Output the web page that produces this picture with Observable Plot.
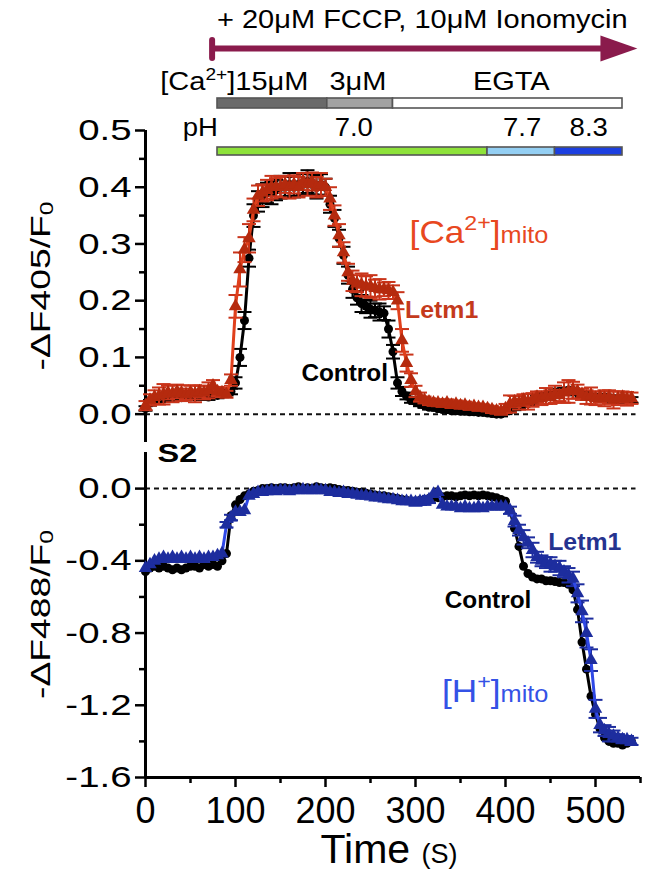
<!DOCTYPE html>
<html>
<head>
<meta charset="utf-8">
<script src="https://cdn.jsdelivr.net/npm/d3@7"></script>
<script src="https://cdn.jsdelivr.net/npm/@observablehq/plot@0.6"></script>
<style>
html,body{margin:0;padding:0;background:#fff;}
#wrap{position:relative;width:645px;height:873px;overflow:hidden;font-family:"Liberation Sans",Arial,sans-serif;}
#wrap svg{position:absolute;left:0;top:0;overflow:visible;}
</style>
</head>
<body>
<div id="wrap"></div>
<script>
// ---------- data ----------
const time = [
  0,5,10,15,20,25,30,35,40,45,
  50,55,60,65,70,75,80,85,90,95,
  100,105,110,115,120,125,130,135,140,145,
  150,155,160,165,170,175,180,185,190,195,
  200,205,210,215,220,225,230,235,240,245,
  250,255,260,265,270,275,280,285,290,295,
  300,305,310,315,320,325,330,335,340,345,
  350,355,360,365,370,375,380,385,390,395,
  400,405,410,415,420,425,430,435,440,445,
  450,455,460,465,470,475,480,485,490,495,
  500,505,510,515,520,525,530,535,540];

// -ΔF405/F0, [Ca2+]mito
const caControl = [
  0.010,0.020,0.025,0.028,0.027,0.030,0.028,0.030,0.029,0.031,
  0.030,0.030,0.033,0.032,0.030,0.035,0.033,0.035,0.038,0.040,
  0.055,0.100,0.165,0.275,0.350,0.375,0.385,0.390,0.390,0.395,
  0.400,0.400,0.405,0.400,0.405,0.405,0.410,0.405,0.400,0.405,
  0.400,0.370,0.345,0.310,0.280,0.245,0.220,0.205,0.195,0.190,
  0.185,0.183,0.180,0.178,0.150,0.110,0.055,0.040,0.032,0.025,
  0.022,0.018,0.015,0.012,0.012,0.010,0.008,0.008,0.006,0.006,
  0.005,0.005,0.004,0.004,0.003,0.003,0.002,0.001,0.000,0.000,
  0.005,0.008,0.012,0.015,0.018,0.020,0.022,0.028,0.030,0.033,
  0.035,0.037,0.040,0.040,0.042,0.040,0.038,0.035,0.032,0.030,
  0.030,0.028,0.030,0.028,0.027,0.025,0.026,0.025,0.025];
const caControlSem = [
  0.004,0.005,0.005,0.005,0.005,0.005,0.005,0.005,0.005,0.005,
  0.005,0.005,0.005,0.005,0.005,0.005,0.005,0.005,0.005,0.005,
  0.010,0.015,0.015,0.015,0.020,0.018,0.020,0.018,0.020,0.018,
  0.020,0.018,0.020,0.018,0.020,0.018,0.020,0.018,0.020,0.018,
  0.015,0.015,0.015,0.015,0.015,0.015,0.015,0.012,0.015,0.012,
  0.015,0.012,0.015,0.012,0.015,0.012,0.010,0.008,0.006,0.005,
  0.004,0.004,0.004,0.004,0.004,0.004,0.004,0.004,0.004,0.004,
  0.004,0.004,0.004,0.004,0.004,0.004,0.004,0.004,0.004,0.004,
  0.005,0.005,0.005,0.005,0.005,0.005,0.005,0.005,0.005,0.005,
  0.005,0.005,0.005,0.005,0.005,0.005,0.005,0.005,0.005,0.005,
  0.005,0.005,0.005,0.005,0.005,0.005,0.005,0.005,0.005];
const caLetm1 = [
  0.015,0.025,0.030,0.032,0.035,0.038,0.036,0.040,0.037,0.035,
  0.038,0.036,0.040,0.038,0.042,0.050,0.040,0.038,0.035,0.060,
  0.190,0.255,0.290,0.310,0.360,0.385,0.390,0.395,0.400,0.400,
  0.400,0.405,0.400,0.405,0.400,0.410,0.405,0.410,0.400,0.405,
  0.400,0.380,0.350,0.315,0.285,0.250,0.235,0.230,0.228,0.225,
  0.225,0.222,0.220,0.220,0.218,0.215,0.200,0.130,0.090,0.060,
  0.040,0.030,0.025,0.022,0.020,0.020,0.018,0.020,0.016,0.018,
  0.015,0.016,0.013,0.014,0.012,0.012,0.010,0.008,0.006,0.005,
  0.010,0.018,0.022,0.020,0.025,0.022,0.025,0.030,0.028,0.032,
  0.030,0.035,0.033,0.038,0.040,0.042,0.040,0.035,0.030,0.032,
  0.028,0.030,0.028,0.030,0.025,0.028,0.030,0.027,0.028];
const caLetm1Sem = [
  0.008,0.010,0.012,0.015,0.018,0.012,0.015,0.012,0.014,0.010,
  0.012,0.015,0.010,0.012,0.014,0.010,0.008,0.008,0.006,0.010,
  0.020,0.030,0.022,0.025,0.020,0.018,0.015,0.018,0.020,0.016,
  0.018,0.015,0.020,0.016,0.018,0.015,0.020,0.016,0.018,0.020,
  0.015,0.020,0.018,0.020,0.018,0.015,0.018,0.015,0.020,0.018,
  0.020,0.015,0.018,0.012,0.015,0.012,0.015,0.020,0.015,0.012,
  0.010,0.008,0.006,0.006,0.005,0.006,0.005,0.006,0.005,0.006,
  0.005,0.006,0.005,0.005,0.006,0.005,0.005,0.006,0.005,0.006,
  0.008,0.015,0.010,0.012,0.010,0.014,0.012,0.010,0.012,0.014,
  0.012,0.015,0.010,0.018,0.020,0.015,0.012,0.010,0.012,0.015,
  0.012,0.010,0.014,0.012,0.015,0.012,0.010,0.012,0.010];

// -ΔF488/F0, [H+]mito
const phControl = [
  -0.46,-0.44,-0.43,-0.44,-0.43,-0.44,-0.45,-0.44,-0.45,-0.44,
  -0.43,-0.43,-0.44,-0.42,-0.43,-0.42,-0.43,-0.40,-0.36,-0.15,
  -0.09,-0.06,-0.04,-0.03,-0.015,-0.01,0.00,0.00,0.005,0.00,
  0.005,0.005,0.00,0.005,0.01,0.00,0.005,0.00,0.01,0.005,
  0.00,0.005,0.00,-0.005,-0.01,-0.01,-0.015,-0.02,-0.02,-0.025,
  -0.03,-0.035,-0.04,-0.04,-0.045,-0.05,-0.055,-0.06,-0.065,-0.07,
  -0.07,-0.065,-0.06,-0.055,-0.05,-0.05,-0.045,-0.04,-0.04,-0.045,
  -0.04,-0.035,-0.04,-0.035,-0.04,-0.035,-0.04,-0.045,-0.05,-0.06,
  -0.07,-0.12,-0.22,-0.32,-0.43,-0.47,-0.49,-0.50,-0.50,-0.51,
  -0.51,-0.515,-0.52,-0.52,-0.53,-0.56,-0.67,-0.85,-1.00,-1.15,
  -1.25,-1.33,-1.38,-1.40,-1.41,-1.41,-1.42,-1.41,-1.40];
const phLetm1 = [
  -0.44,-0.42,-0.40,-0.39,-0.38,-0.39,-0.38,-0.39,-0.38,-0.39,
  -0.38,-0.39,-0.38,-0.39,-0.38,-0.38,-0.37,-0.36,-0.20,-0.16,
  -0.13,-0.13,-0.12,-0.04,-0.03,-0.02,-0.02,-0.015,-0.01,-0.015,
  -0.01,-0.01,-0.015,-0.01,-0.01,-0.005,-0.01,-0.01,-0.005,-0.01,
  -0.01,-0.02,-0.02,-0.025,-0.02,-0.03,-0.03,-0.035,-0.04,-0.04,
  -0.045,-0.05,-0.05,-0.055,-0.06,-0.06,-0.065,-0.07,-0.07,-0.07,
  -0.075,-0.07,-0.07,-0.06,-0.03,-0.02,-0.09,-0.10,-0.10,-0.10,
  -0.11,-0.10,-0.11,-0.11,-0.10,-0.11,-0.10,-0.10,-0.10,-0.10,
  -0.10,-0.12,-0.18,-0.23,-0.27,-0.30,-0.34,-0.38,-0.40,-0.41,
  -0.42,-0.43,-0.44,-0.46,-0.48,-0.50,-0.58,-0.68,-0.80,-0.95,
  -1.22,-1.31,-1.34,-1.36,-1.37,-1.38,-1.39,-1.39,-1.40];
const phLetm1Sem = [
  0.010,0.010,0.012,0.010,0.010,0.012,0.010,0.010,0.012,0.010,
  0.010,0.012,0.010,0.010,0.012,0.010,0.010,0.012,0.015,0.015,
  0.012,0.010,0.010,0.012,0.010,0.010,0.012,0.010,0.010,0.012,
  0.010,0.010,0.012,0.010,0.010,0.012,0.010,0.010,0.012,0.010,
  0.010,0.012,0.010,0.010,0.012,0.010,0.010,0.012,0.010,0.010,
  0.012,0.010,0.010,0.012,0.010,0.010,0.012,0.010,0.010,0.012,
  0.020,0.020,0.020,0.020,0.010,0.012,0.010,0.010,0.012,0.010,
  0.010,0.012,0.010,0.010,0.012,0.010,0.010,0.012,0.010,0.010,
  0.010,0.020,0.030,0.030,0.040,0.030,0.040,0.030,0.030,0.030,
  0.040,0.030,0.040,0.030,0.040,0.040,0.050,0.060,0.080,0.060,
  0.050,0.040,0.030,0.040,0.030,0.020,0.020,0.020,0.020];

// experimental conditions (s)
const caSegments = [
  {row: "ca", label: "15μM", start: 80, end: 202},
  {row: "ca", label: "3μM", start: 202, end: 275},
  {row: "ca", label: "EGTA", start: 275, end: 530}];
const phSegments = [
  {row: "ph", label: "7.0", start: 80, end: 380},
  {row: "ph", label: "7.7", start: 380, end: 455},
  {row: "ph", label: "8.3", start: 455, end: 530}];
const drugSpan = [{row: "arrow", start: 74, end: 515, head: 526}];

const xMajor = [0,100,200,300,400,500];
const xMinor = [50,150,250,350,450,550];
const yUpperMajor = [0,0.1,0.2,0.3,0.4,0.5];
const yUpperMinor = [0.05,0.15,0.25,0.35,0.45];
const yLowerMajor = [0,-0.4,-0.8,-1.2,-1.6];
const yLowerMinor = [-0.2,-0.6,-1.0,-1.4];

// ---------- styling / layout ----------
const W = 645, H = 873, ML = 145, MR = 5;
const FONT = '"Liberation Sans", Arial, sans-serif';
const segColors = {
  domain: ["15μM","3μM","EGTA","7.0","7.7","8.3"],
  range: ["#6a6a6a","#a2a2a2","#ffffff","#8ee23a","#94cff3","#1c3fe0"]
};
const C = {
  red: "#e0401c", redMark: "#b52a0e", redErr: "#c9341a",
  blue: "#2f48e6", blueMark: "#1d2d9e", blueErr: "#1d2d9e",
  arrow: "#8a1b4c"
};

const rows = (vals, sem) => time.map((t, i) => ({t, v: vals[i], s: sem ? sem[i] : 0}));
const caC = rows(caControl, caControlSem), caL = rows(caLetm1, caLetm1Sem);
const phC = rows(phControl), phL = rows(phLetm1, phLetm1Sem);

const capSymbol = {draw(ctx, size) { const r = Math.sqrt(size / Math.PI); ctx.moveTo(-r, 0); ctx.lineTo(r, 0); }};
const headSymbol = {draw(ctx, size) { const r = Math.sqrt(size / Math.PI); ctx.moveTo(-1.42*r, -r); ctx.lineTo(1.42*r, 0); ctx.lineTo(-1.42*r, r); ctx.closePath(); }};

function errorMarks(data, color) {
  return [
    Plot.ruleX(data, {x: "t", y1: d => d.v - d.s, y2: d => d.v + d.s, stroke: color, strokeWidth: 2}),
    Plot.dot(data, {x: "t", y: d => d.v + d.s, symbol: capSymbol, r: 7, stroke: color, strokeWidth: 2, fill: "none"}),
    Plot.dot(data, {x: "t", y: d => d.v - d.s, symbol: capSymbol, r: 7, stroke: color, strokeWidth: 2, fill: "none"})
  ];
}
// widen the y tick labels about their anchor (right end)
function stretchYTicks(svgNode, sx) {
  d3.select(svgNode).selectAll('g[aria-label="y-axis tick label"] text').each(function() {
    const el = d3.select(this);
    const x = +el.attr("x") || 0, y = +el.attr("y") || 0;
    const tr = el.attr("transform") || "";
    el.attr("transform", `${tr} translate(${x},${y}) scale(${sx},1) translate(${-x},${-y})`);
  });
}

const wrap = document.getElementById("wrap");

// ---------- top annotation (conditions) ----------
const condPlot = Plot.plot({
  width: W, height: 180, marginLeft: ML, marginRight: MR,
  x: {domain: [0, 550], axis: null},
  y: {type: "band", domain: ["arrow","ca","ph"], range: [22, 178], padding: 0, axis: null},
  color: segColors,
  style: {background: "none", fontFamily: FONT},
  marks: [
    Plot.ruleY(drugSpan, {y: "row", x1: "start", x2: "end", stroke: C.arrow, strokeWidth: 6}),
    Plot.tickX(drugSpan, {x: "start", y: "row", stroke: C.arrow, strokeWidth: 6, strokeLinecap: "round", insetTop: 18, insetBottom: 16}),
    Plot.dot(drugSpan, {x: "head", y: "row", symbol: headSymbol, r: 13, fill: C.arrow, stroke: "none"}),
    Plot.barX(caSegments, {y: "row", x1: "start", x2: "end", fill: "label", stroke: "#555", strokeWidth: 1.6, insetTop: 24, insetBottom: 18}),
    Plot.barX(phSegments, {y: "row", x1: "start", x2: "end", fill: "label", stroke: "#555", strokeWidth: 1.6, insetTop: 21, insetBottom: 23})
  ]
});
wrap.appendChild(condPlot);

// ---------- upper panel ----------
const upper = Plot.plot({
  width: W, height: H, marginLeft: ML, marginRight: MR, marginTop: 130, marginBottom: H - 442,
  x: {domain: [0, 550], axis: null},
  y: {domain: [-0.05, 0.5]},
  style: {background: "none", fontFamily: FONT, color: "#000"},
  marks: [
    Plot.ruleY([0], {x1: 0, x2: 545, stroke: "#111", strokeWidth: 2, strokeDasharray: "5,4"}),
    Plot.ruleX([0], {stroke: "#000", strokeWidth: 3}),
    Plot.axisY(yUpperMajor, {label: null, tickSize: 10, tickPadding: 4, strokeWidth: 2.5, fontSize: 30, tickFormat: d => d.toFixed(1)}),
    Plot.axisY(yUpperMinor, {label: null, tickSize: 6, strokeWidth: 2.5, tickFormat: () => ""}),
    ...errorMarks(caC, "#000"),
    Plot.line(caC, {x: "t", y: "v", stroke: "#000", strokeWidth: 3}),
    Plot.dot(caC, {x: "t", y: "v", r: 4.5, fill: "#000", stroke: "none"}),
    ...errorMarks(caL, C.redErr),
    Plot.line(caL, {x: "t", y: "v", stroke: C.red, strokeWidth: 3}),
    Plot.dot(caL, {x: "t", y: "v", symbol: "triangle", r: 5, fill: C.redMark, stroke: "none"})
  ]
});
stretchYTicks(upper, 1.28);
wrap.appendChild(upper);

// ---------- lower panel ----------
const phLerr = phL.filter(d => d.s >= 0.015);
const lower = Plot.plot({
  width: W, height: H, marginLeft: ML, marginRight: MR, marginTop: 452, marginBottom: H - 777,
  x: {domain: [0, 550]},
  y: {domain: [-1.6, 0.2]},
  style: {background: "none", fontFamily: FONT, color: "#000"},
  marks: [
    Plot.ruleY([0], {x1: 0, x2: 545, stroke: "#111", strokeWidth: 2, strokeDasharray: "5,4"}),
    Plot.ruleX([0], {stroke: "#000", strokeWidth: 3}),
    Plot.ruleY([-1.6], {stroke: "#000", strokeWidth: 3}),
    Plot.axisY(yLowerMajor, {label: null, tickSize: 10, tickPadding: 4, strokeWidth: 2.5, fontSize: 30, tickFormat: d => d.toFixed(1)}),
    Plot.axisY(yLowerMinor, {label: null, tickSize: 6, strokeWidth: 2.5, tickFormat: () => ""}),
    Plot.axisX(xMajor, {label: null, tickSize: 10, tickPadding: 10, strokeWidth: 2.5, fontSize: 36, tickFormat: d => String(d)}),
    Plot.axisX(xMinor, {label: null, tickSize: 6, strokeWidth: 2.5, tickFormat: () => ""}),
    Plot.line(phC, {x: "t", y: "v", stroke: "#000", strokeWidth: 3}),
    Plot.dot(phC, {x: "t", y: "v", r: 4.5, fill: "#000", stroke: "none"}),
    ...errorMarks(phLerr, C.blueErr),
    Plot.line(phL, {x: "t", y: "v", stroke: C.blue, strokeWidth: 3}),
    Plot.dot(phL, {x: "t", y: "v", symbol: "triangle", r: 5, fill: C.blueMark, stroke: "none"})
  ]
});
stretchYTicks(lower, 1.28);
wrap.appendChild(lower);

// ---------- text annotations (positioned through the plots' scales) ----------
const xs = v => upper.scale("x").apply(v);
const yU = v => upper.scale("y").apply(v);
const yL = v => lower.scale("y").apply(v);
const yBand = r => condPlot.scale("y").apply(r) + condPlot.scale("y").bandwidth / 2;

const ov = d3.create("svg").attr("width", W).attr("height", H).attr("font-family", FONT);
function addText({x, y, parts, size, weight = "normal", fill = "#000", anchor = "start", sx = 1, rotate = 0}) {
  const g = ov.append("g").attr("transform", `translate(${x},${y}) rotate(${rotate}) scale(${sx},1)`);
  const t = g.append("text").attr("font-size", size).attr("font-weight", weight).attr("fill", fill).attr("text-anchor", anchor);
  let cur = 0;
  for (const p of parts) {
    const [str, kind] = typeof p === "string" ? [p, null] : p;
    const fs = kind === "mito" ? size * 0.72 : kind ? size * 0.66 : size;
    const target = kind === "sup" ? -0.42 * size : kind === "sub" ? 0.12 * size : 0;
    t.append("tspan").attr("font-size", fs).attr("dy", target - cur).text(str);
    cur = target;
  }
}

// condition labels
const arrowY = yBand("arrow");
addText({x: xs(80), y: arrowY - 20, size: 25, sx: 1.16, parts: ["+ 20μM FCCP, 10μM Ionomycin"]});
const caY = yBand("ca");
addText({x: xs(17), y: caY - 10, size: 25, sx: 1.16, parts: ["[Ca", ["2+", "sup"], "]15μM"]});
addText({x: xs(205), y: caY - 10, size: 25, sx: 1.16, parts: ["3μM"]});
addText({x: xs(407), y: caY - 10, size: 25, sx: 1.16, anchor: "middle", parts: ["EGTA"]});
const phY = yBand("ph");
addText({x: xs(42), y: phY - 16, size: 25, sx: 1.1, parts: ["pH"]});
addText({x: xs(232), y: phY - 16, size: 25, sx: 1.1, anchor: "middle", parts: ["7.0"]});
addText({x: xs(419), y: phY - 16, size: 25, sx: 1.1, anchor: "middle", parts: ["7.7"]});
addText({x: xs(493), y: phY - 16, size: 25, sx: 1.1, anchor: "middle", parts: ["8.3"]});

// axis titles
addText({x: 50, y: (yU(0.5) + yU(-0.05)) / 2, size: 27, sx: 1.38, rotate: -90, anchor: "middle", parts: ["-ΔF405/F", ["0", "sub"]]});
addText({x: 50, y: (yL(0.2) + yL(-1.6)) / 2, size: 27, sx: 1.38, rotate: -90, anchor: "middle", parts: ["-ΔF488/F", ["0", "sub"]]});
addText({x: xs(195), y: 863, size: 41, parts: ["Time ", ["(S)", "small"]]});

// panel labels
addText({x: xs(294), y: yU(0.300), size: 32, sx: 1.1, fill: "#e8481f", parts: ["[Ca", ["2+", "sup"], "]", ["mito", "mito"]]});
addText({x: xs(289), y: yU(0.168), size: 23, weight: "bold", sx: 1.08, fill: "#c43a1c", parts: ["Letm1"]});
addText({x: xs(270), y: yU(0.058), size: 23, weight: "bold", sx: 1.06, anchor: "end", parts: ["Control"]});
addText({x: xs(14), y: yL(0.144), size: 25, weight: "bold", sx: 1.3, parts: ["S2"]});
addText({x: xs(448), y: yL(-0.343), size: 23, weight: "bold", sx: 1.08, fill: "#25338f", parts: ["Letm1"]});
addText({x: xs(333), y: yL(-0.664), size: 23, weight: "bold", sx: 1.06, parts: ["Control"]});
addText({x: xs(330), y: yL(-1.185), size: 32, sx: 1.1, fill: "#3452e6", parts: ["[H", ["+", "sup"], "]", ["mito", "mito"]]});

wrap.appendChild(ov.node());
</script>
</body>
</html>
